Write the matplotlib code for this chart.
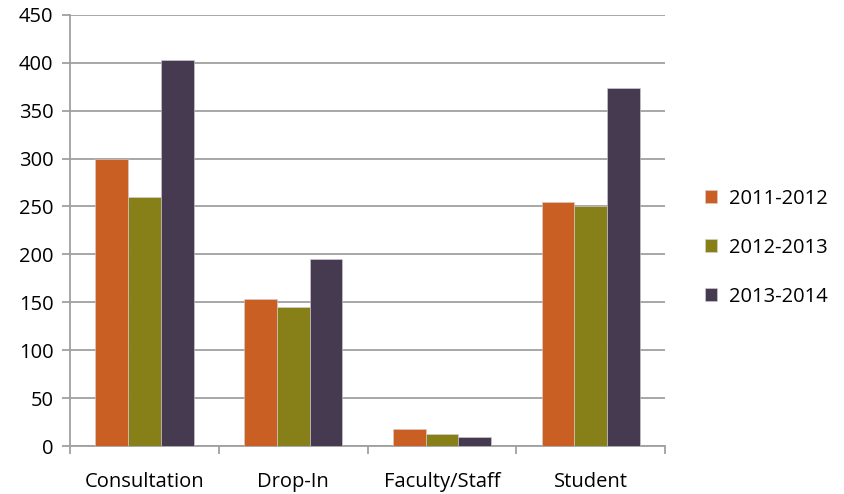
import numpy as np
import matplotlib.pyplot as plt

categories = ['Consultation', 'Drop-In', 'Faculty/Staff', 'Student']
years = ['2011-2012', '2012-2013', '2013-2014']
vals_2011 = [300, 153, 18, 255]
vals_2012 = [260, 145, 13, 250]
vals_2013 = [403, 195, 9, 374]
colors = ['#C95F22', '#877F17', '#453A4F']

plt.rcParams['font.family'] = ['Open Sans', 'DejaVu Sans']

fig = plt.figure(figsize=(8.45, 4.94), dpi=100)
ax = fig.add_axes([0.083, 0.097, 0.704, 0.873])

x = np.arange(len(categories))
w = 0.22
series = [vals_2011, vals_2012, vals_2013]
for i, (vals, c, lab) in enumerate(zip(series, colors, years)):
    ax.bar(x + (i - 1) * w, vals, w, color=c, label=lab,
           edgecolor='#d8d0d8', linewidth=0.4, zorder=3)

ax.set_xlim(-0.5, len(categories) - 0.5)
ax.set_ylim(0, 450)
ax.set_yticks(np.arange(0, 451, 50))
ax.yaxis.grid(True, color='#a0a0a0', linewidth=1.3, zorder=0)
ax.set_axisbelow(True)

# category labels between boundary ticks
ax.set_xticks(x)
ax.set_xticklabels(categories, fontsize=14.5)
ax.tick_params(axis='x', length=0, pad=19)
ax.set_xticks(np.arange(-0.5, len(categories)), minor=True)
ax.tick_params(axis='x', which='minor', length=6, width=1.3, color='#a0a0a0')
ax.tick_params(axis='y', length=6, width=1.3, color='#a0a0a0',
               labelsize=14.5, pad=6)

for s in ['top', 'right']:
    ax.spines[s].set_visible(False)
for s in ['left', 'bottom']:
    ax.spines[s].set_color('#a0a0a0')
    ax.spines[s].set_linewidth(1.3)

ax.legend(loc='center left', bbox_to_anchor=(1.05, 0.46), frameon=False,
          fontsize=14.5, handlelength=0.6, handleheight=0.6,
          handletextpad=0.6, labelspacing=1.45, borderpad=0)

fig.savefig('out.png', dpi=100)
